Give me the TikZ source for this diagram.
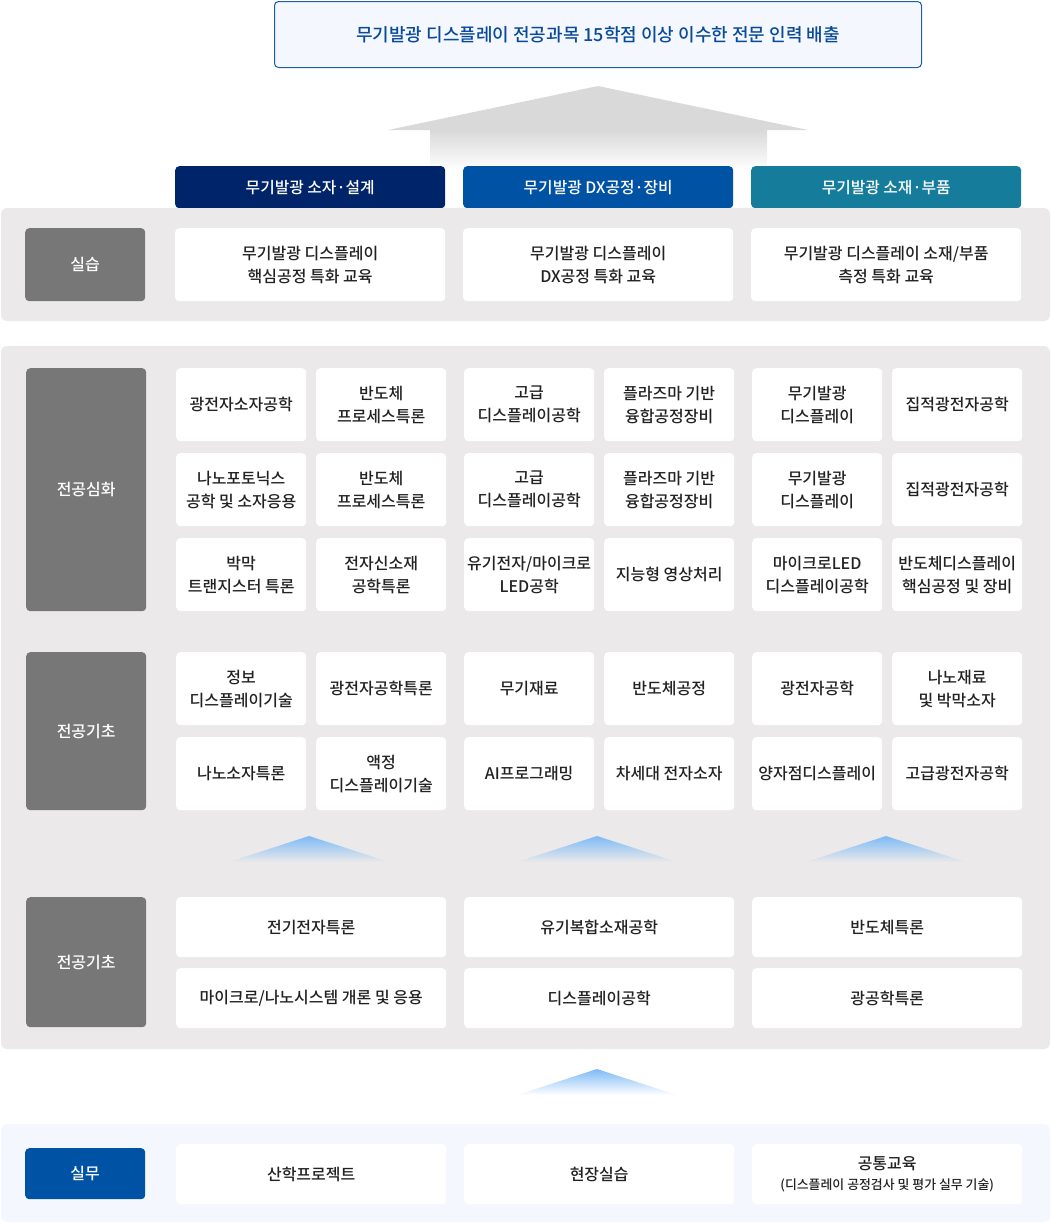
\documentclass[tikz,border=0pt]{standalone}
\usepackage{fontspec}
\setmainfont{Noto Sans CJK KR}
\newfontfamily\medfont{Noto Sans CJK KR Medium}
\usepackage{tikz}
\definecolor{navy}{HTML}{002469}
\definecolor{mblue}{HTML}{0052A4}
\definecolor{teal}{HTML}{157C9B}
\definecolor{panelgray}{HTML}{EBE9EA}
\definecolor{labgray}{HTML}{777777}
\definecolor{lightbg}{HTML}{F4F8FE}
\definecolor{topline}{HTML}{1F5BA6}
\definecolor{toptext}{HTML}{0A4A9A}
\definecolor{txt}{HTML}{222222}
\definecolor{arrgray}{HTML}{D9D9D9}
\definecolor{triblue}{HTML}{7DBAF6}

\begin{document}
\begin{tikzpicture}[x=1pt,y=-1pt,
  cell/.style={fill=white,rounded corners=4pt,align=center,text=txt,inner sep=0pt,anchor=north west,
    font=\medfont\fontsize{16}{23}\selectfont},
  small/.style={cell,minimum width=130pt,minimum height=73pt},
  wide/.style={cell,minimum width=270pt,minimum height=73pt},
  flat/.style={cell,minimum width=270pt,minimum height=60pt},
  lab/.style={fill=labgray,rounded corners=4pt,text=white,inner sep=0pt,anchor=north west,minimum width=120pt,
    font=\medfont\fontsize{16}{20}\selectfont},
  head/.style={rounded corners=4pt,text=white,inner sep=0pt,anchor=north west,minimum width=270pt,minimum height=42pt,
    font=\medfont\fontsize{15.8}{20}\selectfont}]
\useasboundingbox (0,0) rectangle (1051,1224);

\node[draw=topline,line width=1pt,fill=lightbg,rounded corners=4pt,anchor=north west,minimum width=647pt,minimum height=66pt,
  inner sep=0pt,text=toptext,font=\medfont\fontsize{18}{20}\selectfont] (top) at (274,1)
  {무기발광 디스플레이 전공과목 15학점 이상 이수한 전문 인력 배출};

\fill[arrgray] (388,130) -- (598,86) -- (808,130) -- cycle;
\shade[top color=arrgray,bottom color=white] (430,130) rectangle (767,170);

\node[head,fill=navy] (hd1) at (175,166) {무기발광 소자·설계};
\node[head,fill=mblue] (hd2) at (463,166) {무기발광 DX공정·장비};
\node[head,fill=teal] (hd3) at (751,166) {무기발광 소재·부품};

\fill[panelgray,rounded corners=6pt] (1,208) rectangle (1050,321);
\fill[panelgray,rounded corners=6pt] (1,346) rectangle (1050,1049);
\fill[lightbg,rounded corners=6pt] (1,1124) rectangle (1050,1222);

\node[lab,minimum height=73pt] (lab1) at (25,228) {실습};
\node[wide] (p1) at (175,228) {무기발광 디스플레이\\핵심공정 특화 교육};
\node[wide] (p2) at (463,228) {무기발광 디스플레이\\DX공정 특화 교육};
\node[wide] (p3) at (751,228) {무기발광 디스플레이 소재/부품\\측정 특화 교육};

\node[lab,minimum height=243pt] (lab2) at (26,368) {전공심화};
\node[small] (s11) at (176,368) {광전자소자공학};
\node[small] (s12) at (316,368) {반도체\\프로세스특론};
\node[small] (s13) at (464,368) {고급\\디스플레이공학};
\node[small] (s14) at (604,368) {플라즈마 기반\\융합공정장비};
\node[small] (s15) at (752,368) {무기발광\\디스플레이};
\node[small] (s16) at (892,368) {집적광전자공학};
\node[small] (s21) at (176,453) {나노포토닉스\\공학 및 소자응용};
\node[small] (s22) at (316,453) {반도체\\프로세스특론};
\node[small] (s23) at (464,453) {고급\\디스플레이공학};
\node[small] (s24) at (604,453) {플라즈마 기반\\융합공정장비};
\node[small] (s25) at (752,453) {무기발광\\디스플레이};
\node[small] (s26) at (892,453) {집적광전자공학};
\node[small] (s31) at (176,538) {박막\\트랜지스터 특론};
\node[small] (s32) at (316,538) {전자신소재\\공학특론};
\node[small] (s33) at (464,538) {유기전자/마이크로\\LED공학};
\node[small] (s34) at (604,538) {지능형 영상처리};
\node[small] (s35) at (752,538) {마이크로LED\\디스플레이공학};
\node[small] (s36) at (892,538) {반도체디스플레이\\핵심공정 및 장비};

\node[lab,minimum height=158pt] (lab3) at (26,652) {전공기초};
\node[small] (b11) at (176,652) {정보\\디스플레이기술};
\node[small] (b12) at (316,652) {광전자공학특론};
\node[small] (b13) at (464,652) {무기재료};
\node[small] (b14) at (604,652) {반도체공정};
\node[small] (b15) at (752,652) {광전자공학};
\node[small] (b16) at (892,652) {나노재료\\및 박막소자};
\node[small] (b21) at (176,737) {나노소자특론};
\node[small] (b22) at (316,737) {액정\\디스플레이기술};
\node[small] (b23) at (464,737) {AI프로그래밍};
\node[small] (b24) at (604,737) {차세대 전자소자};
\node[small] (b25) at (752,737) {양자점디스플레이};
\node[small] (b26) at (892,737) {고급광전자공학};

\shade[top color=triblue,bottom color=panelgray] (229,862) -- (309,836) -- (389,862) -- cycle;
\shade[top color=triblue,bottom color=panelgray] (517,862) -- (597,836) -- (677,862) -- cycle;
\shade[top color=triblue,bottom color=panelgray] (806,862) -- (886,836) -- (966,862) -- cycle;

\node[lab,minimum height=130pt] (lab4) at (26,897) {전공기초};
\node[flat] (f11) at (176,897) {전기전자특론};
\node[flat] (f12) at (464,897) {유기복합소재공학};
\node[flat] (f13) at (752,897) {반도체특론};
\node[flat] (f21) at (176,968) {마이크로/나노시스템 개론 및 응용};
\node[flat] (f22) at (464,968) {디스플레이공학};
\node[flat] (f23) at (752,968) {광공학특론};

\shade[top color=triblue,bottom color=white] (517,1095) -- (597,1069) -- (677,1095) -- cycle;

\node[lab,fill=mblue,minimum height=51pt] (lab5) at (25,1148) {실무};
\node[flat] (w1) at (176,1144) {산학프로젝트};
\node[flat] (w2) at (464,1144) {현장실습};
\node[flat] (w3) at (752,1144) {공통교육\\[-3pt]{\fontsize{12.9}{16}\selectfont(디스플레이 공정검사 및 평가 실무 기술)}};
\end{tikzpicture}
\end{document}
